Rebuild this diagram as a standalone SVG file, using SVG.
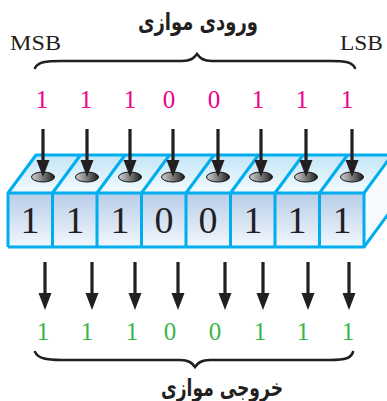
<svg xmlns="http://www.w3.org/2000/svg" width="387" height="401" viewBox="0 0 387 401">
<defs>
<linearGradient id="gFront" x1="0" y1="0" x2="0" y2="1">
<stop offset="0" stop-color="#b7cde8"/>
<stop offset="1" stop-color="#f2f7fd"/>
</linearGradient>
<linearGradient id="gTop" x1="0" y1="0" x2="0" y2="1">
<stop offset="0" stop-color="#c2e5f6"/>
<stop offset="1" stop-color="#f4fbfe"/>
</linearGradient>
<linearGradient id="gHole" x1="0" y1="0" x2="1" y2="0">
<stop offset="0" stop-color="#d0d0d0"/>
<stop offset="0.6" stop-color="#6a6a6a"/>
<stop offset="1" stop-color="#1a1a1a"/>
</linearGradient>
<path id="arr" d="M-1.6,0 H1.6 V31 L6.5,31 L0,48 L-6.5,31 L-1.6,31 Z" fill="#231f20"/>
</defs>
<style>
.edge{fill:none;stroke:#00aeef;stroke-width:3;stroke-linejoin:round}
.hole{fill:url(#gHole);stroke:#111;stroke-width:1}
.brace{fill:none;stroke:#231f20;stroke-width:2.6;stroke-linecap:round}
.lat{font-family:"Liberation Serif","Times New Roman",serif;fill:#231f20}
.in{font-family:"Liberation Serif",serif;font-size:25px;fill:#ec008c;text-anchor:middle}
.out{font-family:"Liberation Serif",serif;font-size:25px;fill:#39b54a;text-anchor:middle}
.cell{font-family:"Liberation Serif",serif;font-size:38px;fill:#231f20;text-anchor:middle}
.fa{font-family:"DejaVu Sans","Noto Sans",sans-serif;font-weight:bold;font-size:24px;fill:#231f20;text-anchor:middle}
</style>
<rect width="387" height="401" fill="#ffffff"/>

<g id="title-in">
<text class="fa" x="198" y="30" direction="rtl" textLength="120" lengthAdjust="spacingAndGlyphs">ورودی موازی</text>
</g>
<g id="msb"><text class="lat" x="10" y="50" font-size="22" textLength="51" lengthAdjust="spacingAndGlyphs">MSB</text></g>
<g id="lsb"><text class="lat" x="340" y="50" font-size="22" textLength="43" lengthAdjust="spacingAndGlyphs">LSB</text></g>
<g id="brace-in">
<path class="brace" d="M35,68 C38,62 45,61 62,61 L182,61 C191,61 194,58 197,54 C200,58 203,61 212,61 L330,61 C346,61 352,62 355,68"/>
</g>

<g id="input-bits">
<text class="in" x="42" y="108">1</text>
<text class="in" x="86" y="108">1</text>
<text class="in" x="130" y="108">1</text>
<text class="in" x="169" y="108">0</text>
<text class="in" x="214" y="108">0</text>
<text class="in" x="258" y="108">1</text>
<text class="in" x="302" y="108">1</text>
<text class="in" x="347" y="108">1</text>
</g>

<g id="register">
<path d="M8,193 L36,155 L392,155 L364,193 Z" fill="url(#gTop)"/>
<path d="M364,193 L392,155 L392,209 L364,247 Z" fill="#f7fbfe"/>
<rect x="8" y="193" width="356" height="54" fill="url(#gFront)"/>
<path class="edge" d="M8,247 L8,193 L36,155 L392,155"/>
<path class="edge" d="M8,193 L364,193 L392,155"/>
<path class="edge" d="M8,247 L364,247 L364,193"/>
<path class="edge" d="M364,247 L392,209"/>
<g class="edge">
<path d="M52.5,247 V193 L80.5,155"/>
<path d="M97,247 V193 L125,155"/>
<path d="M141.5,247 V193 L169.5,155"/>
<path d="M186,247 V193 L214,155"/>
<path d="M230.5,247 V193 L258.5,155"/>
<path d="M275,247 V193 L303,155"/>
<path d="M319.5,247 V193 L347.5,155"/>
</g>
<g id="holes">
<ellipse class="hole" cx="43" cy="177" rx="11.5" ry="5"/>
<ellipse class="hole" cx="87" cy="177" rx="11.5" ry="5"/>
<ellipse class="hole" cx="130" cy="177" rx="11.5" ry="5"/>
<ellipse class="hole" cx="173" cy="177" rx="11.5" ry="5"/>
<ellipse class="hole" cx="218" cy="177" rx="11.5" ry="5"/>
<ellipse class="hole" cx="261" cy="177" rx="11.5" ry="5"/>
<ellipse class="hole" cx="306" cy="177" rx="11.5" ry="5"/>
<ellipse class="hole" cx="352" cy="177" rx="11.5" ry="5"/>
</g>
<g id="cell-bits">
<text class="cell" x="30" y="233">1</text>
<text class="cell" x="75" y="233">1</text>
<text class="cell" x="120" y="233">1</text>
<text class="cell" x="164" y="233">0</text>
<text class="cell" x="208" y="233">0</text>
<text class="cell" x="253" y="233">1</text>
<text class="cell" x="297" y="233">1</text>
<text class="cell" x="342" y="233">1</text>
</g>
</g>

<g id="connectors">
<use href="#arr" x="43" y="129"/>
<use href="#arr" x="87" y="129"/>
<use href="#arr" x="130" y="129"/>
<use href="#arr" x="173" y="129"/>
<use href="#arr" x="218" y="129"/>
<use href="#arr" x="261" y="129"/>
<use href="#arr" x="306" y="129"/>
<use href="#arr" x="352" y="129"/>
<use href="#arr" x="45" y="262"/>
<use href="#arr" x="92" y="262"/>
<use href="#arr" x="135" y="262"/>
<use href="#arr" x="178" y="262"/>
<use href="#arr" x="225" y="262"/>
<use href="#arr" x="263" y="262"/>
<use href="#arr" x="308" y="262"/>
<use href="#arr" x="349" y="262"/>
</g>

<g id="output-bits">
<text class="out" x="43" y="340">1</text>
<text class="out" x="87" y="340">1</text>
<text class="out" x="132" y="340">1</text>
<text class="out" x="170" y="340">0</text>
<text class="out" x="215" y="340">0</text>
<text class="out" x="260" y="340">1</text>
<text class="out" x="303" y="340">1</text>
<text class="out" x="348" y="340">1</text>
</g>

<g id="brace-out">
<path class="brace" d="M35,352 C38,358 45,360 62,360 L180,360 C189,360 192,363 195,367 C198,363 201,360 210,360 L330,360 C346,360 351,358 353,352"/>
</g>
<g id="title-out">
<text class="fa" x="222" y="396" direction="rtl" textLength="122" lengthAdjust="spacingAndGlyphs">خروجی موازی</text>
</g>
</svg>
